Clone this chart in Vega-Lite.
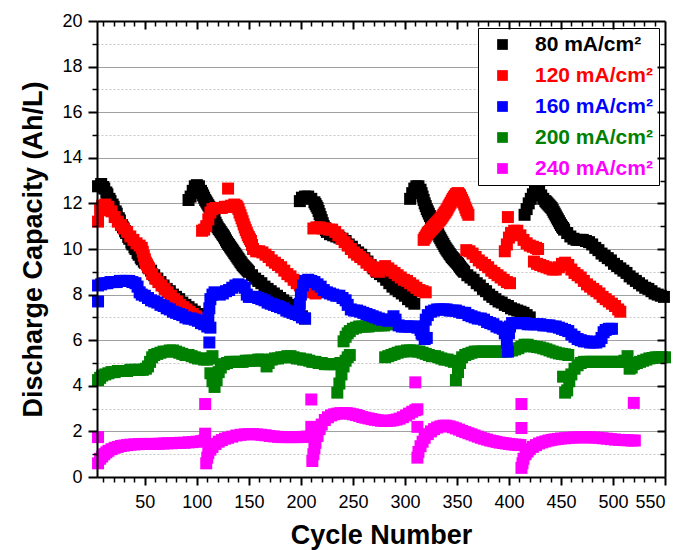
{
"$schema": "https://vega.github.io/schema/vega-lite/v6.json",
"width": 568, "height": 456,
"autosize": {"type": "none"},
"padding": {"left": 97, "top": 21, "right": 18, "bottom": 73},
"background": "white",
"config": {"view": {"stroke": null}, "font": "Liberation Sans", "axis": {"labelFont": "Liberation Sans", "titleFont": "Liberation Sans", "domainColor": "black", "tickColor": "black", "labelColor": "black", "titleColor": "black"}},
"datasets": {
"k": [{"x":5,"y":12.75},{"x":8,"y":12.85},{"x":11,"y":12.65},{"x":14,"y":12.4},{"x":17,"y":12.1},{"x":20,"y":11.85},{"x":23,"y":11.55},{"x":26,"y":11.25},{"x":29,"y":10.95},{"x":32,"y":10.7},{"x":35,"y":10.45},{"x":38,"y":10.2},{"x":41,"y":10.0},{"x":44,"y":9.75},{"x":47,"y":9.55},{"x":50,"y":9.4},{"x":53,"y":9.2},{"x":56,"y":9.05},{"x":59,"y":8.85},{"x":62,"y":8.7},{"x":65,"y":8.55},{"x":68,"y":8.4},{"x":71,"y":8.25},{"x":74,"y":8.15},{"x":77,"y":8.0},{"x":80,"y":7.9},{"x":83,"y":7.8},{"x":86,"y":7.65},{"x":89,"y":7.55},{"x":92,"y":7.45},{"x":95,"y":7.35},{"x":98,"y":7.25},{"x":101,"y":7.15},{"x":104,"y":7.05},{"x":107,"y":6.95},
{"x":10,"y":12.72},{"x":13,"y":12.48},{"x":16,"y":12.2},{"x":19,"y":11.95},{"x":22,"y":11.65},{"x":25,"y":11.35},{"x":28,"y":11.05},{"x":31,"y":10.78},{"x":34,"y":10.53},{"x":37,"y":10.28},{"x":40,"y":10.07},{"x":43,"y":9.83},{"x":46,"y":9.62},{"x":49,"y":9.45},
{"x":92,"y":12.15},{"x":94,"y":12.3},{"x":96,"y":12.55},{"x":98,"y":12.75},{"x":100,"y":12.8},{"x":102,"y":12.75},{"x":104,"y":12.55},{"x":106,"y":12.35},{"x":108,"y":12.15},{"x":110,"y":12.0},{"x":112,"y":11.85},{"x":114,"y":11.65},{"x":116,"y":11.4},{"x":118,"y":11.15},{"x":120,"y":10.95},{"x":123,"y":10.75},{"x":126,"y":10.55},{"x":129,"y":10.3},{"x":132,"y":10.1},{"x":135,"y":9.9},{"x":138,"y":9.7},{"x":141,"y":9.5},{"x":144,"y":9.3},{"x":147,"y":9.15},{"x":150,"y":9.0},{"x":153,"y":8.85},{"x":156,"y":8.7},{"x":159,"y":8.6},{"x":162,"y":8.5},{"x":165,"y":8.35},{"x":168,"y":8.25},{"x":171,"y":8.15},{"x":174,"y":8.05},{"x":177,"y":7.95},{"x":180,"y":7.85},{"x":183,"y":7.75},{"x":186,"y":7.65},{"x":189,"y":7.55},{"x":192,"y":7.45},{"x":195,"y":7.35},{"x":198,"y":7.2},{"x":201,"y":7.05},{"x":204,"y":6.95},
{"x":105,"y":12.45},{"x":107,"y":12.25},{"x":109,"y":12.08},{"x":111,"y":11.92},{"x":113,"y":11.75},{"x":115,"y":11.52},{"x":117,"y":11.28},{"x":119,"y":11.05},{"x":121,"y":10.88},{"x":122,"y":10.82},{"x":124,"y":10.68},{"x":125,"y":10.62},{"x":127,"y":10.47},{"x":128,"y":10.38},{"x":130,"y":10.23},{"x":131,"y":10.17},{"x":133,"y":10.03},{"x":134,"y":9.97},{"x":136,"y":9.83},{"x":137,"y":9.77},{"x":139,"y":9.63},{"x":140,"y":9.57},{"x":142,"y":9.43},{"x":143,"y":9.37},{"x":145,"y":9.25},{"x":146,"y":9.2},{"x":148,"y":9.1},{"x":149,"y":9.05},
{"x":199,"y":12.1},{"x":201,"y":12.25},{"x":204,"y":12.3},{"x":207,"y":12.3},{"x":210,"y":12.2},{"x":213,"y":12.05},{"x":216,"y":11.8},{"x":219,"y":11.4},{"x":222,"y":11.0},{"x":225,"y":10.75},{"x":228,"y":10.65},{"x":231,"y":10.6},{"x":234,"y":10.55},{"x":237,"y":10.5},{"x":240,"y":10.45},{"x":243,"y":10.35},{"x":246,"y":10.2},{"x":249,"y":10.1},{"x":252,"y":9.95},{"x":255,"y":9.85},{"x":258,"y":9.75},{"x":261,"y":9.6},{"x":264,"y":9.45},{"x":267,"y":9.3},{"x":270,"y":9.15},{"x":273,"y":9.0},{"x":276,"y":8.9},{"x":279,"y":8.8},{"x":282,"y":8.65},{"x":285,"y":8.5},{"x":288,"y":8.35},{"x":291,"y":8.25},{"x":294,"y":8.15},{"x":297,"y":8.05},{"x":300,"y":7.95},{"x":303,"y":7.8},{"x":306,"y":7.7},{"x":309,"y":7.6},
{"x":214,"y":11.97},{"x":215,"y":11.88},{"x":217,"y":11.67},{"x":218,"y":11.53},{"x":220,"y":11.27},{"x":221,"y":11.13},{"x":223,"y":10.92},{"x":224,"y":10.83},
{"x":305,"y":12.2},{"x":307,"y":12.45},{"x":309,"y":12.65},{"x":311,"y":12.75},{"x":313,"y":12.75},{"x":315,"y":12.6},{"x":317,"y":12.3},{"x":319,"y":12.0},{"x":321,"y":11.75},{"x":324,"y":11.45},{"x":327,"y":11.15},{"x":330,"y":10.85},{"x":333,"y":10.55},{"x":336,"y":10.3},{"x":339,"y":10.05},{"x":342,"y":9.85},{"x":345,"y":9.65},{"x":348,"y":9.5},{"x":351,"y":9.35},{"x":354,"y":9.15},{"x":357,"y":9.0},{"x":360,"y":8.85},{"x":363,"y":8.75},{"x":366,"y":8.65},{"x":369,"y":8.5},{"x":372,"y":8.4},{"x":375,"y":8.25},{"x":378,"y":8.15},{"x":381,"y":8.0},{"x":384,"y":7.9},{"x":387,"y":7.8},{"x":390,"y":7.7},{"x":393,"y":7.65},{"x":396,"y":7.55},{"x":399,"y":7.5},{"x":402,"y":7.4},{"x":405,"y":7.35},{"x":408,"y":7.3},{"x":411,"y":7.25},{"x":414,"y":7.2},{"x":417,"y":7.1},{"x":420,"y":7.0},
{"x":316,"y":12.45},{"x":318,"y":12.15},{"x":320,"y":11.88},{"x":322,"y":11.65},{"x":323,"y":11.55},{"x":325,"y":11.35},{"x":326,"y":11.25},{"x":328,"y":11.05},{"x":329,"y":10.95},{"x":331,"y":10.75},{"x":332,"y":10.65},{"x":334,"y":10.47},{"x":335,"y":10.38},{"x":337,"y":10.22},{"x":338,"y":10.13},{"x":340,"y":9.98},{"x":341,"y":9.92},{"x":343,"y":9.78},{"x":344,"y":9.72},{"x":346,"y":9.6},{"x":347,"y":9.55},{"x":349,"y":9.45},{"x":350,"y":9.4},{"x":352,"y":9.28},{"x":353,"y":9.22},{"x":355,"y":9.1},{"x":356,"y":9.05},
{"x":415,"y":11.5},{"x":417,"y":11.75},{"x":419,"y":12.0},{"x":421,"y":12.2},{"x":423,"y":12.4},{"x":425,"y":12.5},{"x":427,"y":12.55},{"x":429,"y":12.5},{"x":431,"y":12.35},{"x":433,"y":12.2},{"x":435,"y":12.1},{"x":438,"y":11.95},{"x":441,"y":11.8},{"x":444,"y":11.55},{"x":447,"y":11.3},{"x":450,"y":11.05},{"x":453,"y":10.85},{"x":456,"y":10.7},{"x":459,"y":10.55},{"x":462,"y":10.45},{"x":465,"y":10.4},{"x":468,"y":10.4},{"x":471,"y":10.4},{"x":474,"y":10.35},{"x":477,"y":10.3},{"x":480,"y":10.2},{"x":483,"y":10.05},{"x":486,"y":9.95},{"x":489,"y":9.8},{"x":492,"y":9.7},{"x":495,"y":9.6},{"x":498,"y":9.5},{"x":501,"y":9.35},{"x":504,"y":9.25},{"x":507,"y":9.15},{"x":510,"y":9.05},{"x":513,"y":8.95},{"x":516,"y":8.8},{"x":519,"y":8.7},{"x":522,"y":8.6},{"x":525,"y":8.5},{"x":528,"y":8.4},{"x":531,"y":8.3},{"x":534,"y":8.25},{"x":537,"y":8.15},{"x":540,"y":8.05},{"x":543,"y":8.0},{"x":546,"y":7.95},{"x":549,"y":7.9},
{"x":436,"y":12.05},{"x":437,"y":12.0},{"x":439,"y":11.9},{"x":440,"y":11.85},{"x":442,"y":11.72},{"x":443,"y":11.63},{"x":445,"y":11.47},{"x":446,"y":11.38},{"x":448,"y":11.22},{"x":449,"y":11.13},{"x":451,"y":10.98},{"x":452,"y":10.92}],
"r": [{"x":5,"y":11.2},{"x":7,"y":11.7},{"x":9,"y":11.9},{"x":12,"y":11.95},{"x":15,"y":11.85},{"x":18,"y":11.65},{"x":21,"y":11.4},{"x":24,"y":11.2},{"x":27,"y":11.05},{"x":30,"y":10.9},{"x":33,"y":10.75},{"x":36,"y":10.55},{"x":39,"y":10.4},{"x":42,"y":10.25},{"x":45,"y":10.15},{"x":47,"y":10.05},{"x":49,"y":9.7},{"x":51,"y":9.4},{"x":54,"y":9.15},{"x":57,"y":8.9},{"x":60,"y":8.7},{"x":63,"y":8.55},{"x":66,"y":8.4},{"x":69,"y":8.25},{"x":72,"y":8.1},{"x":75,"y":7.95},{"x":78,"y":7.8},{"x":81,"y":7.7},{"x":84,"y":7.55},{"x":87,"y":7.45},{"x":90,"y":7.35},{"x":93,"y":7.25},{"x":96,"y":7.15},{"x":99,"y":7.05},{"x":102,"y":6.98},{"x":105,"y":6.9},{"x":108,"y":6.85},
{"x":48,"y":9.88},{"x":50,"y":9.55},{"x":52,"y":9.32},{"x":53,"y":9.23},
{"x":105,"y":10.8},{"x":107,"y":10.85},{"x":109,"y":11.0},{"x":111,"y":11.3},{"x":113,"y":11.6},{"x":115,"y":11.75},{"x":118,"y":11.8},{"x":121,"y":11.8},{"x":124,"y":11.8},{"x":127,"y":11.85},{"x":130,"y":11.85},{"x":130,"y":12.65},{"x":133,"y":11.9},{"x":136,"y":11.95},{"x":138,"y":11.9},{"x":140,"y":11.75},{"x":143,"y":11.35},{"x":146,"y":10.95},{"x":149,"y":10.6},{"x":152,"y":10.35},{"x":154,"y":10.0},{"x":157,"y":9.9},{"x":160,"y":9.9},{"x":163,"y":9.85},{"x":166,"y":9.75},{"x":169,"y":9.65},{"x":172,"y":9.5},{"x":175,"y":9.4},{"x":178,"y":9.3},{"x":181,"y":9.2},{"x":184,"y":9.05},{"x":187,"y":8.9},{"x":190,"y":8.8},{"x":193,"y":8.65},{"x":196,"y":8.5},{"x":199,"y":8.4},{"x":202,"y":8.3},{"x":205,"y":8.2},{"x":208,"y":8.15},{"x":211,"y":8.1},{"x":214,"y":8.05},
{"x":139,"y":11.83},{"x":141,"y":11.6},{"x":142,"y":11.48},{"x":144,"y":11.22},{"x":145,"y":11.08},{"x":147,"y":10.83},{"x":148,"y":10.72},{"x":150,"y":10.52},{"x":151,"y":10.43},{"x":153,"y":10.18},
{"x":212,"y":10.9},{"x":215,"y":10.95},{"x":218,"y":10.95},{"x":221,"y":10.9},{"x":224,"y":10.9},{"x":227,"y":10.85},{"x":230,"y":10.85},{"x":233,"y":10.75},{"x":236,"y":10.6},{"x":239,"y":10.45},{"x":242,"y":10.3},{"x":245,"y":10.15},{"x":248,"y":10.0},{"x":251,"y":9.85},{"x":254,"y":9.75},{"x":257,"y":9.65},{"x":260,"y":9.55},{"x":263,"y":9.4},{"x":266,"y":9.3},{"x":269,"y":9.2},{"x":272,"y":9.05},{"x":275,"y":9.0},{"x":278,"y":9.15},{"x":281,"y":9.25},{"x":284,"y":9.15},{"x":287,"y":9.05},{"x":290,"y":8.95},{"x":293,"y":8.85},{"x":296,"y":8.75},{"x":299,"y":8.65},{"x":302,"y":8.6},{"x":305,"y":8.5},{"x":308,"y":8.4},{"x":311,"y":8.3},{"x":314,"y":8.2},{"x":317,"y":8.15},{"x":320,"y":8.1},
{"x":318,"y":10.4},{"x":320,"y":10.55},{"x":322,"y":10.7},{"x":325,"y":10.85},{"x":328,"y":11.0},{"x":331,"y":11.15},{"x":334,"y":11.3},{"x":337,"y":11.5},{"x":340,"y":11.7},{"x":343,"y":11.95},{"x":346,"y":12.2},{"x":349,"y":12.4},{"x":351,"y":12.45},{"x":353,"y":12.35},{"x":355,"y":12.15},{"x":357,"y":11.95},{"x":359,"y":11.7},{"x":361,"y":11.5},
{"x":319,"y":10.48},{"x":321,"y":10.63},{"x":323,"y":10.75},{"x":324,"y":10.8},{"x":326,"y":10.9},{"x":327,"y":10.95},{"x":329,"y":11.05},{"x":330,"y":11.1},{"x":332,"y":11.2},{"x":333,"y":11.25},{"x":335,"y":11.37},{"x":336,"y":11.43},{"x":338,"y":11.57},{"x":339,"y":11.63},{"x":341,"y":11.78},{"x":342,"y":11.87},{"x":344,"y":12.03},{"x":345,"y":12.12},{"x":347,"y":12.27},{"x":348,"y":12.33},{"x":350,"y":12.43},{"x":352,"y":12.4},{"x":354,"y":12.25},{"x":356,"y":12.05},{"x":358,"y":11.82},{"x":360,"y":11.6},
{"x":359,"y":9.95},{"x":362,"y":9.9},{"x":365,"y":9.8},{"x":368,"y":9.65},{"x":371,"y":9.5},{"x":374,"y":9.4},{"x":377,"y":9.3},{"x":380,"y":9.2},{"x":383,"y":9.05},{"x":386,"y":8.95},{"x":389,"y":8.85},{"x":392,"y":8.75},{"x":395,"y":8.65},{"x":398,"y":8.55},{"x":401,"y":8.5},
{"x":399,"y":11.4},{"x":396,"y":9.9},{"x":398,"y":10.2},{"x":400,"y":10.5},{"x":402,"y":10.7},{"x":405,"y":10.8},{"x":408,"y":10.8},{"x":411,"y":10.6},{"x":414,"y":10.4},{"x":417,"y":10.25},{"x":420,"y":10.15},{"x":423,"y":10.1},{"x":426,"y":10.05},{"x":428,"y":10.0},{"x":424,"y":9.45},{"x":427,"y":9.35},{"x":430,"y":9.3},{"x":433,"y":9.25},{"x":436,"y":9.2},{"x":439,"y":9.15},{"x":442,"y":9.1},{"x":445,"y":9.1},{"x":448,"y":9.2},{"x":451,"y":9.35},{"x":454,"y":9.4},{"x":457,"y":9.3},{"x":460,"y":9.1},{"x":463,"y":8.95},{"x":466,"y":8.85},{"x":469,"y":8.75},{"x":472,"y":8.6},{"x":475,"y":8.45},{"x":478,"y":8.35},{"x":481,"y":8.25},{"x":484,"y":8.15},{"x":487,"y":8.05},{"x":490,"y":7.9},{"x":493,"y":7.8},{"x":496,"y":7.7},{"x":499,"y":7.6},{"x":502,"y":7.5},{"x":505,"y":7.35},{"x":507,"y":7.25}],
"g": [{"x":5,"y":4.25},{"x":7,"y":4.35},{"x":9,"y":4.45},{"x":12,"y":4.5},{"x":15,"y":4.55},{"x":18,"y":4.6},{"x":21,"y":4.6},{"x":24,"y":4.65},{"x":27,"y":4.65},{"x":30,"y":4.65},{"x":33,"y":4.65},{"x":36,"y":4.7},{"x":39,"y":4.7},{"x":42,"y":4.7},{"x":45,"y":4.7},{"x":48,"y":4.7},{"x":51,"y":4.75},{"x":53,"y":4.85},{"x":55,"y":5.05},{"x":57,"y":5.25},{"x":59,"y":5.35},{"x":62,"y":5.4},{"x":65,"y":5.45},{"x":68,"y":5.5},{"x":71,"y":5.5},{"x":74,"y":5.55},{"x":77,"y":5.55},{"x":80,"y":5.5},{"x":83,"y":5.45},{"x":86,"y":5.4},{"x":89,"y":5.35},{"x":92,"y":5.35},{"x":95,"y":5.3},{"x":98,"y":5.25},{"x":101,"y":5.2},{"x":104,"y":5.2},{"x":107,"y":5.15},{"x":110,"y":5.15},{"x":113,"y":5.2},{"x":115,"y":5.3},
{"x":113,"y":4.55},{"x":115,"y":4.2},{"x":117,"y":3.95},{"x":119,"y":4.25},{"x":121,"y":4.6},{"x":123,"y":4.8},{"x":126,"y":4.95},{"x":129,"y":5.0},{"x":132,"y":5.05},{"x":135,"y":5.05},{"x":138,"y":5.05},{"x":141,"y":5.05},{"x":144,"y":5.05},{"x":147,"y":5.1},{"x":150,"y":5.1},{"x":153,"y":5.1},{"x":156,"y":5.1},{"x":159,"y":5.15},{"x":162,"y":5.15},{"x":165,"y":5.1},{"x":167,"y":4.85},{"x":169,"y":5.0},{"x":172,"y":5.15},{"x":175,"y":5.2},{"x":178,"y":5.2},{"x":181,"y":5.25},{"x":184,"y":5.25},{"x":187,"y":5.3},{"x":190,"y":5.3},{"x":193,"y":5.25},{"x":196,"y":5.2},{"x":199,"y":5.2},{"x":202,"y":5.15},{"x":205,"y":5.15},{"x":208,"y":5.1},{"x":211,"y":5.05},{"x":214,"y":5.05},{"x":217,"y":5.0},{"x":220,"y":5.0},{"x":223,"y":4.95},{"x":226,"y":4.95},{"x":229,"y":4.95},{"x":232,"y":4.95},{"x":235,"y":4.95},{"x":238,"y":5.0},
{"x":235,"y":3.7},{"x":237,"y":4.1},{"x":239,"y":4.5},{"x":241,"y":4.85},{"x":243,"y":5.1},{"x":245,"y":5.25},{"x":247,"y":5.35},
{"x":241,"y":5.95},{"x":243,"y":6.15},{"x":245,"y":6.3},{"x":247,"y":6.4},{"x":250,"y":6.5},{"x":253,"y":6.55},{"x":256,"y":6.6},{"x":259,"y":6.6},{"x":262,"y":6.6},{"x":265,"y":6.6},{"x":268,"y":6.65},{"x":271,"y":6.65},{"x":274,"y":6.65},{"x":277,"y":6.65},{"x":280,"y":6.65},{"x":283,"y":6.7},{"x":286,"y":6.7},
{"x":281,"y":5.25},{"x":284,"y":5.3},{"x":287,"y":5.35},{"x":290,"y":5.4},{"x":293,"y":5.45},{"x":296,"y":5.5},{"x":299,"y":5.5},{"x":302,"y":5.55},{"x":305,"y":5.55},{"x":308,"y":5.55},{"x":311,"y":5.5},{"x":314,"y":5.5},{"x":317,"y":5.45},{"x":320,"y":5.4},{"x":323,"y":5.35},{"x":326,"y":5.3},{"x":329,"y":5.3},{"x":332,"y":5.25},{"x":335,"y":5.2},{"x":338,"y":5.15},{"x":341,"y":5.15},{"x":344,"y":5.1},{"x":347,"y":5.05},
{"x":349,"y":4.25},{"x":351,"y":4.6},{"x":353,"y":5.0},{"x":355,"y":5.25},{"x":358,"y":5.35},{"x":361,"y":5.4},{"x":364,"y":5.45},{"x":367,"y":5.5},{"x":370,"y":5.5},{"x":373,"y":5.5},{"x":376,"y":5.5},{"x":379,"y":5.5},{"x":382,"y":5.5},{"x":385,"y":5.5},{"x":388,"y":5.5},{"x":391,"y":5.5},{"x":394,"y":5.5},{"x":397,"y":5.5},{"x":400,"y":5.55},{"x":403,"y":5.55},{"x":406,"y":5.6},{"x":409,"y":5.65},{"x":412,"y":5.72},{"x":415,"y":5.8},{"x":418,"y":5.8},{"x":421,"y":5.75},{"x":424,"y":5.72},{"x":427,"y":5.7},{"x":430,"y":5.68},{"x":433,"y":5.64},{"x":436,"y":5.6},{"x":439,"y":5.55},{"x":442,"y":5.5},{"x":445,"y":5.46},{"x":448,"y":5.42},{"x":451,"y":5.4},{"x":454,"y":5.38},{"x":457,"y":5.35},
{"x":452,"y":4.4},{"x":454,"y":3.7},{"x":456,"y":3.8},{"x":458,"y":4.2},{"x":460,"y":4.5},{"x":463,"y":4.75},{"x":466,"y":4.9},{"x":469,"y":5.0},{"x":472,"y":5.05},{"x":475,"y":5.05},{"x":478,"y":5.05},{"x":481,"y":5.05},{"x":484,"y":5.05},{"x":487,"y":5.05},{"x":490,"y":5.05},{"x":493,"y":5.05},{"x":496,"y":5.05},{"x":499,"y":5.05},{"x":502,"y":5.05},{"x":505,"y":5.05},{"x":508,"y":5.05},{"x":511,"y":5.1},{"x":514,"y":5.3},{"x":516,"y":4.75},{"x":518,"y":4.8},{"x":520,"y":4.95},{"x":523,"y":5.0},{"x":526,"y":5.05},{"x":529,"y":5.1},{"x":532,"y":5.15},{"x":535,"y":5.2},{"x":538,"y":5.22},{"x":541,"y":5.25},{"x":544,"y":5.25},{"x":547,"y":5.25},{"x":550,"y":5.25}],
"b": [{"x":5,"y":7.7},{"x":5,"y":8.4},{"x":8,"y":8.45},{"x":11,"y":8.5},{"x":14,"y":8.5},{"x":17,"y":8.55},{"x":20,"y":8.55},{"x":23,"y":8.55},{"x":26,"y":8.6},{"x":29,"y":8.6},{"x":32,"y":8.6},{"x":35,"y":8.6},{"x":38,"y":8.55},{"x":41,"y":8.5},{"x":43,"y":8.35},{"x":45,"y":8.1},{"x":47,"y":8.0},{"x":50,"y":7.95},{"x":53,"y":7.85},{"x":56,"y":7.75},{"x":59,"y":7.7},{"x":62,"y":7.65},{"x":65,"y":7.55},{"x":68,"y":7.5},{"x":71,"y":7.4},{"x":74,"y":7.35},{"x":77,"y":7.25},{"x":80,"y":7.2},{"x":83,"y":7.15},{"x":86,"y":7.1},{"x":89,"y":7.0},{"x":92,"y":6.95},{"x":95,"y":6.95},{"x":98,"y":6.9},{"x":101,"y":6.85},{"x":104,"y":6.75},{"x":107,"y":6.7},{"x":110,"y":6.6},{"x":113,"y":6.55},{"x":112,"y":5.9},
{"x":111,"y":7.0},{"x":112,"y":7.4},{"x":113,"y":7.8},{"x":115,"y":8.0},{"x":117,"y":8.1},{"x":119,"y":8.05},{"x":122,"y":8.0},{"x":125,"y":8.05},{"x":128,"y":8.15},{"x":131,"y":8.2},{"x":134,"y":8.3},{"x":137,"y":8.4},{"x":140,"y":8.45},{"x":143,"y":8.4},{"x":146,"y":8.3},{"x":148,"y":8.0},{"x":150,"y":7.9},{"x":153,"y":7.9},{"x":156,"y":7.9},{"x":159,"y":7.85},{"x":162,"y":7.8},{"x":165,"y":7.75},{"x":168,"y":7.65},{"x":171,"y":7.6},{"x":174,"y":7.55},{"x":177,"y":7.5},{"x":180,"y":7.45},{"x":183,"y":7.4},{"x":186,"y":7.3},{"x":189,"y":7.25},{"x":192,"y":7.2},{"x":195,"y":7.15},{"x":198,"y":7.1},{"x":201,"y":7.0},{"x":204,"y":6.95},
{"x":199,"y":7.6},{"x":200,"y":8.0},{"x":202,"y":8.4},{"x":204,"y":8.6},{"x":207,"y":8.65},{"x":210,"y":8.6},{"x":213,"y":8.55},{"x":216,"y":8.45},{"x":219,"y":8.35},{"x":222,"y":8.2},{"x":225,"y":8.1},{"x":228,"y":8.05},{"x":231,"y":8.0},{"x":234,"y":7.95},{"x":237,"y":7.95},{"x":240,"y":7.85},{"x":243,"y":7.75},{"x":245,"y":7.55},{"x":248,"y":7.35},{"x":251,"y":7.3},{"x":254,"y":7.3},{"x":257,"y":7.25},{"x":260,"y":7.2},{"x":263,"y":7.15},{"x":266,"y":7.1},{"x":269,"y":7.05},{"x":272,"y":7.0},{"x":275,"y":6.95},{"x":278,"y":6.9},{"x":281,"y":6.9},{"x":284,"y":6.85},{"x":287,"y":6.9},{"x":289,"y":7.05},{"x":291,"y":6.9},{"x":294,"y":6.65},{"x":297,"y":6.6},{"x":300,"y":6.6},{"x":303,"y":6.6},{"x":306,"y":6.6},{"x":309,"y":6.6},{"x":312,"y":6.55},{"x":315,"y":6.45},{"x":317,"y":6.25},{"x":319,"y":6.05},{"x":321,"y":6.1},
{"x":316,"y":6.3},{"x":318,"y":6.6},{"x":320,"y":6.9},{"x":322,"y":7.1},{"x":325,"y":7.25},{"x":328,"y":7.3},{"x":331,"y":7.35},{"x":334,"y":7.35},{"x":337,"y":7.35},{"x":340,"y":7.35},{"x":343,"y":7.3},{"x":346,"y":7.3},{"x":349,"y":7.3},{"x":352,"y":7.25},{"x":355,"y":7.2},{"x":358,"y":7.2},{"x":361,"y":7.1},{"x":364,"y":7.05},{"x":367,"y":7.0},{"x":370,"y":6.95},{"x":373,"y":6.95},{"x":376,"y":6.9},{"x":379,"y":6.8},{"x":382,"y":6.75},{"x":385,"y":6.7},{"x":388,"y":6.6},{"x":391,"y":6.55},{"x":394,"y":6.5},{"x":396,"y":6.3},{"x":398,"y":5.9},{"x":399,"y":5.5},
{"x":400,"y":6.3},{"x":401,"y":6.6},{"x":403,"y":6.75},{"x":406,"y":6.75},{"x":409,"y":6.75},{"x":412,"y":6.75},{"x":415,"y":6.75},{"x":418,"y":6.7},{"x":421,"y":6.7},{"x":424,"y":6.7},{"x":427,"y":6.7},{"x":430,"y":6.7},{"x":433,"y":6.65},{"x":436,"y":6.65},{"x":439,"y":6.65},{"x":442,"y":6.6},{"x":445,"y":6.6},{"x":448,"y":6.55},{"x":451,"y":6.5},{"x":454,"y":6.45},{"x":457,"y":6.4},{"x":460,"y":6.25},{"x":463,"y":6.15},{"x":466,"y":6.05},{"x":469,"y":6.0},{"x":472,"y":5.95},{"x":475,"y":5.95},{"x":478,"y":5.9},{"x":481,"y":5.9},{"x":484,"y":5.9},{"x":487,"y":5.95},{"x":489,"y":6.1},{"x":491,"y":6.35},{"x":493,"y":6.45},{"x":496,"y":6.5},{"x":499,"y":6.5}],
"m": [{"x":5,"y":1.75},{"x":5,"y":0.6},{"x":7,"y":0.8},{"x":9,"y":0.9},{"x":11,"y":1.0},{"x":13,"y":1.08},{"x":15,"y":1.15},{"x":18,"y":1.22},{"x":21,"y":1.28},{"x":24,"y":1.32},{"x":27,"y":1.36},{"x":30,"y":1.38},{"x":33,"y":1.4},{"x":36,"y":1.42},{"x":40,"y":1.43},{"x":44,"y":1.44},{"x":48,"y":1.45},{"x":52,"y":1.45},{"x":56,"y":1.45},{"x":60,"y":1.45},{"x":64,"y":1.46},{"x":68,"y":1.47},{"x":72,"y":1.48},{"x":76,"y":1.48},{"x":80,"y":1.49},{"x":84,"y":1.5},{"x":88,"y":1.5},{"x":92,"y":1.52},{"x":96,"y":1.53},{"x":100,"y":1.55},{"x":104,"y":1.57},{"x":107,"y":1.6},{"x":108,"y":3.2},{"x":108,"y":1.9},
{"x":109,"y":0.6},{"x":110,"y":0.85},{"x":111,"y":1.05},{"x":113,"y":1.2},{"x":115,"y":1.32},{"x":118,"y":1.45},{"x":121,"y":1.55},{"x":124,"y":1.62},{"x":127,"y":1.68},{"x":130,"y":1.72},{"x":134,"y":1.77},{"x":138,"y":1.82},{"x":142,"y":1.85},{"x":146,"y":1.87},{"x":150,"y":1.88},{"x":154,"y":1.88},{"x":158,"y":1.87},{"x":162,"y":1.85},{"x":166,"y":1.83},{"x":170,"y":1.8},{"x":174,"y":1.78},{"x":178,"y":1.76},{"x":182,"y":1.75},{"x":186,"y":1.75},{"x":190,"y":1.75},{"x":194,"y":1.75},{"x":198,"y":1.75},{"x":202,"y":1.76},{"x":206,"y":1.77},{"x":210,"y":1.78},{"x":214,"y":1.8},{"x":210,"y":3.4},{"x":210,"y":2.2},{"x":211,"y":0.7},
{"x":212,"y":1.0},{"x":213,"y":1.25},{"x":214,"y":1.5},{"x":216,"y":1.8},{"x":218,"y":2.1},{"x":220,"y":2.3},{"x":223,"y":2.5},{"x":226,"y":2.62},{"x":229,"y":2.7},{"x":232,"y":2.75},{"x":235,"y":2.78},{"x":238,"y":2.8},{"x":241,"y":2.8},{"x":244,"y":2.8},{"x":247,"y":2.78},{"x":250,"y":2.75},{"x":253,"y":2.72},{"x":256,"y":2.68},{"x":259,"y":2.63},{"x":262,"y":2.6},{"x":265,"y":2.57},{"x":268,"y":2.54},{"x":271,"y":2.51},{"x":274,"y":2.49},{"x":277,"y":2.47},{"x":280,"y":2.46},{"x":283,"y":2.46},{"x":286,"y":2.47},{"x":289,"y":2.49},{"x":292,"y":2.52},{"x":295,"y":2.56},{"x":298,"y":2.62},{"x":301,"y":2.7},{"x":304,"y":2.78},{"x":307,"y":2.86},{"x":310,"y":2.93},{"x":312,"y":2.97},{"x":310,"y":4.15},{"x":312,"y":2.2},
{"x":312,"y":0.85},{"x":313,"y":1.1},{"x":315,"y":1.35},{"x":317,"y":1.55},{"x":319,"y":1.72},{"x":322,"y":1.88},{"x":325,"y":2.0},{"x":328,"y":2.1},{"x":331,"y":2.17},{"x":334,"y":2.22},{"x":337,"y":2.25},{"x":340,"y":2.25},{"x":343,"y":2.22},{"x":346,"y":2.18},{"x":349,"y":2.13},{"x":352,"y":2.08},{"x":355,"y":2.02},{"x":358,"y":1.97},{"x":361,"y":1.92},{"x":364,"y":1.87},{"x":367,"y":1.82},{"x":370,"y":1.77},{"x":373,"y":1.72},{"x":376,"y":1.68},{"x":379,"y":1.64},{"x":382,"y":1.6},{"x":385,"y":1.57},{"x":388,"y":1.54},{"x":391,"y":1.51},{"x":394,"y":1.49},{"x":397,"y":1.47},{"x":400,"y":1.45},{"x":403,"y":1.43},{"x":406,"y":1.42},{"x":409,"y":1.41},{"x":411,"y":1.4},{"x":412,"y":3.2},{"x":412,"y":2.15},
{"x":412,"y":0.4},{"x":413,"y":0.6},{"x":414,"y":0.8},{"x":416,"y":1.0},{"x":418,"y":1.12},{"x":420,"y":1.22},{"x":423,"y":1.32},{"x":426,"y":1.4},{"x":429,"y":1.47},{"x":432,"y":1.52},{"x":435,"y":1.56},{"x":438,"y":1.6},{"x":441,"y":1.63},{"x":444,"y":1.65},{"x":447,"y":1.67},{"x":450,"y":1.69},{"x":454,"y":1.7},{"x":458,"y":1.72},{"x":462,"y":1.73},{"x":466,"y":1.74},{"x":470,"y":1.74},{"x":474,"y":1.74},{"x":478,"y":1.74},{"x":482,"y":1.73},{"x":486,"y":1.72},{"x":490,"y":1.7},{"x":494,"y":1.68},{"x":498,"y":1.66},{"x":502,"y":1.64},{"x":506,"y":1.63},{"x":510,"y":1.62},{"x":514,"y":1.61},{"x":518,"y":1.6},{"x":521,"y":1.6},{"x":520,"y":3.25}]
},
"resolve": {"scale": {"x": "shared", "y": "shared", "color": "shared"}, "axis": {"x": "independent", "y": "independent"}},
"layer": [
{"data": {"name": "k"}, "mark": {"type": "square", "size": 144, "opacity": 1},
 "encoding": {
  "x": {"field": "x", "type": "quantitative", "scale": {"domain": [4, 550], "nice": false, "zero": false},
        "axis": {"orient": "bottom", "values": [50,100,150,200,250,300,350,400,450,500,550], "tickSize": 8, "tickWidth": 2, "domainWidth": 2, "labelFontSize": 18, "labelPadding": 8, "title": "Cycle Number", "titleFontSize": 27, "titleFontWeight": "bold", "titlePadding": 11, "grid": false, "zindex": 1}},
  "y": {"field": "y", "type": "quantitative", "scale": {"domain": [0, 20], "nice": false, "zero": true},
        "axis": {"orient": "left", "values": [0,2,4,6,8,10,12,14,16,18,20], "tickSize": 9, "tickWidth": 2, "domainWidth": 2, "labelFontSize": 18, "labelPadding": 6, "title": "Discharge Capacity (Ah/L)", "titleFontSize": 27, "titleFontWeight": "bold", "titlePadding": 14, "grid": false, "zindex": 1}},
  "color": {"datum": "80 mA/cm²", "type": "nominal",
        "scale": {"domain": ["80 mA/cm²", "120 mA/cm²", "160 mA/cm²", "200 mA/cm²", "240 mA/cm²"], "range": ["#000000", "#ff0000", "#0000ff", "#008000", "#ff00ff"]},
        "legend": {"title": null, "orient": "none", "legendX": 381, "legendY": 7, "padding": 6, "strokeColor": "black", "fillColor": "white", "symbolType": "square", "symbolSize": 115, "symbolStrokeWidth": 0, "symbolOpacity": 1, "symbolOffset": 8, "labelFont": "Liberation Sans", "labelFontSize": 21, "labelFontWeight": "bold", "labelOffset": 22, "labelLimit": 300, "rowPadding": 9, "labelColor": {"expr": "scale('color', datum.value)"}}}
 }},
{"data": {"name": "r"}, "mark": {"type": "square", "size": 144, "opacity": 1},
 "encoding": {
  "x": {"field": "x", "type": "quantitative", "axis": {"orient": "bottom", "values": [10,20,30,40,60,70,80,90,110,120,130,140,160,170,180,190,210,220,230,240,260,270,280,290,310,320,330,340,360,370,380,390,410,420,430,440,460,470,480,490,510,520,530,540], "tickSize": 5, "tickWidth": 1.5, "labels": false, "domain": false, "title": null, "grid": false, "zindex": 1}},
  "y": {"field": "y", "type": "quantitative", "axis": {"orient": "left", "values": [1,3,5,7,9,11,13,15,17,19], "tickSize": 5, "tickWidth": 1.5, "labels": false, "domain": false, "title": null, "grid": false, "zindex": 1}},
  "color": {"datum": "120 mA/cm²", "type": "nominal"}
 }},
{"data": {"name": "g"}, "mark": {"type": "square", "size": 144, "opacity": 1},
 "encoding": {
  "x": {"field": "x", "type": "quantitative", "axis": {"orient": "top", "values": [50,100,150,200,250,300,350,400,450,500], "tickSize": -8, "tickWidth": 2, "domainWidth": 2, "labels": false, "title": null, "grid": false, "zindex": 1}},
  "y": {"field": "y", "type": "quantitative", "axis": {"orient": "right", "values": [2,4,6,8,10,12,14,16,18], "tickSize": -8, "tickWidth": 2, "domainWidth": 2, "labels": false, "title": null, "grid": false, "zindex": 1}},
  "color": {"datum": "200 mA/cm²", "type": "nominal"}
 }},
{"data": {"name": "b"}, "mark": {"type": "square", "size": 144, "opacity": 1},
 "encoding": {
  "x": {"field": "x", "type": "quantitative", "axis": {"orient": "top", "values": [10,20,30,40,60,70,80,90,110,120,130,140,160,170,180,190,210,220,230,240,260,270,280,290,310,320,330,340,360,370,380,390,410,420,430,440,460,470,480,490,510,520,530,540], "tickSize": -5, "tickWidth": 1.5, "labels": false, "domain": false, "title": null, "grid": false, "zindex": 1}},
  "y": {"field": "y", "type": "quantitative", "axis": {"orient": "right", "values": [1,3,5,7,9,11,13,15,17,19], "tickSize": -5, "tickWidth": 1.5, "labels": false, "domain": false, "title": null, "grid": false, "zindex": 1}},
  "color": {"datum": "160 mA/cm²", "type": "nominal"}
 }},
{"data": {"name": "m"}, "mark": {"type": "square", "size": 144, "opacity": 1},
 "encoding": {
  "x": {"field": "x", "type": "quantitative", "axis": null},
  "y": {"field": "y", "type": "quantitative", "axis": {"orient": "left", "values": [1,2,3,4,5,6,7,8,9,10,11,12,13,14,15,16,17,18,19], "grid": true, "gridColor": {"condition": {"test": "datum.value % 2 === 1", "value": "#c8c8c8"}, "value": "#a0a0a0"}, "gridDash": {"condition": {"test": "datum.value % 2 === 1", "value": [2, 2]}, "value": []}, "gridWidth": 1.2, "ticks": false, "labels": false, "domain": false, "title": null, "zindex": 0}},
  "color": {"datum": "240 mA/cm²", "type": "nominal"}
 }}
]
}
